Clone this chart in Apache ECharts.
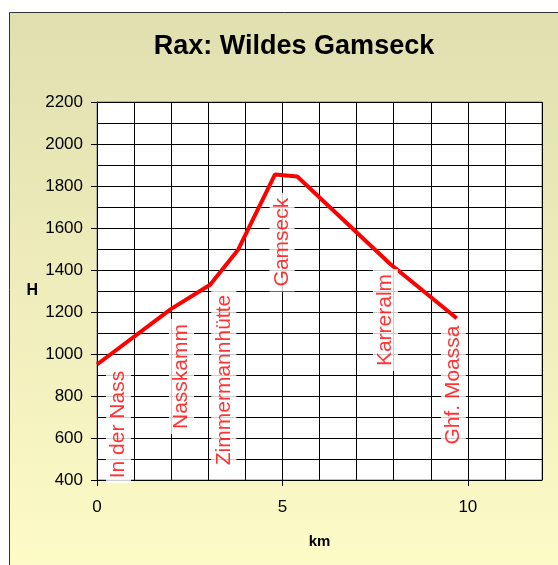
<!DOCTYPE html>
<html>
<head>
<meta charset="utf-8">
<script src="https://cdn.jsdelivr.net/npm/echarts@6/dist/echarts.min.js"></script>
<style>
html,body{margin:0;padding:0;background:#fff;}
#c{width:558px;height:565px;}
</style>
</head>
<body>
<div id="c"></div>
<script>
var km = [0, 2, 3.05, 3.8, 4.8, 5.4, 7.9, 9.7];
var height = [950, 1215, 1330, 1495, 1855, 1845, 1430, 1170];
var placeNames = ['In der Nass', 'Nasskamm', 'Zimmermannhütte', 'Gamseck', 'Karreralm', 'Ghf. Moassa'];
var placeKm = [0.58, 2.28, 3.42, 4.99, 7.78, 9.61];
var placeH = [664, 893, 876, 1533, 1162, 852];
var xTicks = [0, 5, 10];
var yTicks = [400, 600, 800, 1000, 1200, 1400, 1600, 1800, 2000, 2200];

var chart = echarts.init(document.getElementById('c'), null, {renderer: 'canvas'});
var FONT = '"Liberation Sans", Arial, sans-serif';

var lineData = km.map(function (k, i) { return [k, height[i]]; });
var labelData = placeNames.map(function (n, i) { return {name: n, value: [placeKm[i], placeH[i]]}; });

var xBase = {type: 'value', min: 0, max: 12, gridIndex: 0, position: 'bottom'};
var yBase = {type: 'value', min: 400, max: 2200, gridIndex: 0, position: 'left'};

chart.setOption({
  animation: false,
  backgroundColor: '#ffffff',
  graphic: [{
    type: 'rect', z: -10, silent: true,
    shape: {x: 9.5, y: 12.5, width: 600, height: 600},
    style: {
      fill: new echarts.graphic.LinearGradient(0, 0, 0, 1, [
        {offset: 0, color: '#e0dfb0'},
        {offset: 1, color: '#fffdc8'}
      ]),
      stroke: '#333333', lineWidth: 1
    }
  }],
  title: {
    text: 'Rax: Wildes Gamseck',
    left: 289, top: 28, textAlign: 'center',
    textStyle: {fontFamily: FONT, fontSize: 27, fontWeight: 'bold', color: '#000'}
  },
  grid: {
    left: 97, top: 102, right: 16, bottom: 85,
    show: true, backgroundColor: '#ffffff', borderColor: '#808080', borderWidth: 1
  },
  xAxis: [
    Object.assign({}, xBase, {
      interval: 1,
      axisLine: {show: false},
      axisTick: {show: false},
      axisLabel: {show: false},
      splitLine: {show: true, lineStyle: {color: '#000', width: 1}}
    }),
    Object.assign({}, xBase, {
      interval: 5,
      name: 'km', nameLocation: 'middle', nameGap: 54,
      nameTextStyle: {fontFamily: FONT, fontSize: 15, fontWeight: 'bold', color: '#000'},
      axisLine: {show: true, onZero: false, lineStyle: {color: '#000', width: 1}},
      axisTick: {show: true, length: 6, customValues: xTicks, lineStyle: {color: '#000'}},
      axisLabel: {customValues: xTicks, margin: 19, fontFamily: FONT, fontSize: 17, color: '#000'},
      splitLine: {show: false}
    })
  ],
  yAxis: [
    Object.assign({}, yBase, {
      interval: 100,
      axisLine: {show: false},
      axisTick: {show: false},
      axisLabel: {show: false},
      splitLine: {show: true, lineStyle: {color: '#000', width: 1}}
    }),
    Object.assign({}, yBase, {
      interval: 200,
      name: 'H', nameLocation: 'middle', nameRotate: 0, nameGap: 59,
      nameTextStyle: {fontFamily: FONT, fontSize: 16, fontWeight: 'bold', color: '#000'},
      axisLine: {show: true, onZero: false, lineStyle: {color: '#000', width: 1}},
      axisTick: {show: true, length: 6, customValues: yTicks, lineStyle: {color: '#000'}},
      axisLabel: {
        customValues: yTicks, margin: 14, fontFamily: FONT, fontSize: 17, color: '#000',
        formatter: function (v) { return String(v); }
      },
      splitLine: {show: false}
    })
  ],
  series: [{
    type: 'line',
    xAxisIndex: 0, yAxisIndex: 0,
    data: lineData,
    symbol: 'none',
    lineStyle: {color: '#ff0000', width: 4},
    z: 3
  }, {
    type: 'scatter',
    xAxisIndex: 0, yAxisIndex: 0,
    data: labelData,
    symbolSize: 1,
    itemStyle: {color: 'rgba(0,0,0,0)'},
    z: 4,
    label: {
      show: true, position: 'inside', rotate: 90,
      formatter: '{b}',
      fontFamily: FONT, fontSize: 21, color: '#ff0000',
      backgroundColor: '#ffffff', padding: [3, 5, 1, 5]
    }
  }]
});
</script>
</body>
</html>
